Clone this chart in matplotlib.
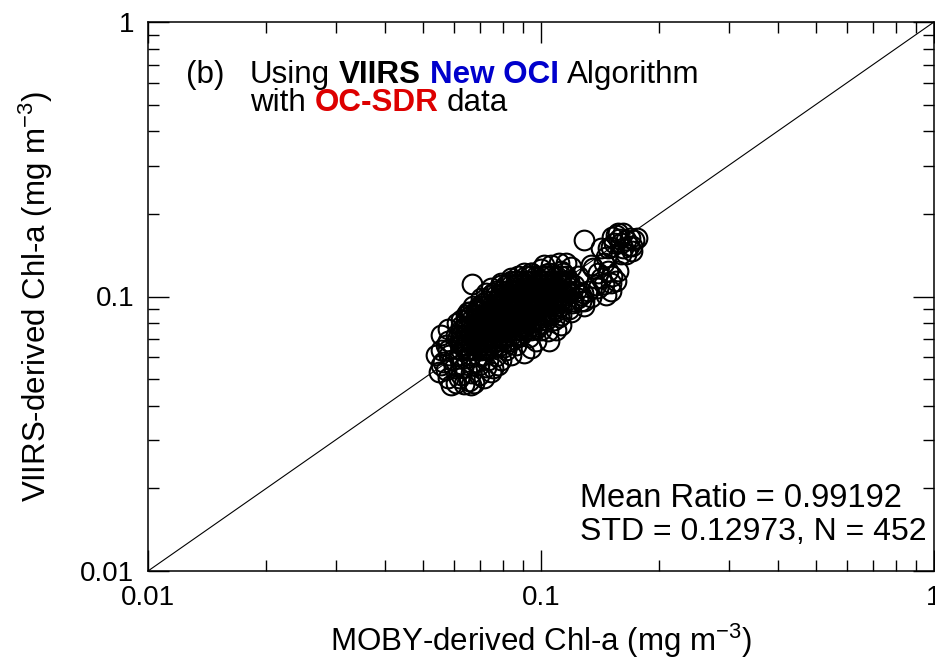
import matplotlib
matplotlib.use('Agg')
import matplotlib.pyplot as plt
from matplotlib.transforms import IdentityTransform
from matplotlib.ticker import LogLocator, NullFormatter, FixedLocator, FixedFormatter

plt.rcParams['font.family'] = ['Liberation Sans', 'DejaVu Sans']
plt.rcParams['mathtext.fontset'] = 'custom'
plt.rcParams['mathtext.rm'] = 'Liberation Sans'
plt.rcParams['mathtext.it'] = 'Liberation Sans:italic'
plt.rcParams['mathtext.bf'] = 'Liberation Sans:bold'

# ---------------- data ----------------
# MOBY-derived Chl-a (x) and VIIRS-derived Chl-a (y), mg m^-3
moby_chl = [
    # dense core
    0.0916, 0.0971, 0.103, 0.109, 0.116,
    0.0838, 0.0889, 0.0943, 0.100, 0.106, 0.1125, 0.118,
    0.0814, 0.0863, 0.0916, 0.0971, 0.103, 0.109, 0.116,
    0.0791, 0.0838, 0.0889, 0.0943, 0.100, 0.106, 0.1125, 0.118,
    0.0768, 0.0814, 0.0863, 0.0916, 0.0971, 0.103, 0.109, 0.116,
    0.0746, 0.0791, 0.0838, 0.0889, 0.0943, 0.100, 0.106, 0.1125,
    0.0724, 0.0768, 0.0814, 0.0863, 0.0916, 0.0971, 0.103, 0.109,
    0.0703, 0.0746, 0.0791, 0.0838, 0.0889, 0.0943, 0.100, 0.106,
    0.0663, 0.0703, 0.0746, 0.0791, 0.0838, 0.0889, 0.0943, 0.100, 0.106,
    0.0644, 0.0683, 0.0724, 0.0768, 0.0814, 0.0863, 0.0916, 0.0971, 0.103,
    0.0625, 0.0663, 0.0703, 0.0746, 0.0791, 0.0838, 0.0889, 0.0943,
    0.0644, 0.0683, 0.0724, 0.0768, 0.0814, 0.0863, 0.0916,
    0.0625, 0.0663, 0.0703, 0.0746, 0.0791, 0.0838, 0.0889,
    0.0644, 0.0683, 0.0724, 0.0768, 0.0814,
    0.0625, 0.0663, 0.0703, 0.0746, 0.0791,
    0.0644, 0.0683, 0.0724,
    0.0943, 0.105, 0.1135,
    0.083, 0.090, 0.0983, 0.107, 0.117,
    0.0757, 0.0823, 0.0905, 0.099, 0.108, 0.118,
    0.0716, 0.0777, 0.0848, 0.0927, 0.102, 0.111, 0.120,
    0.0691, 0.0755, 0.0823, 0.090, 0.0983, 0.108,
    0.0655, 0.0716, 0.0777, 0.0853, 0.0932, 0.102, 0.111,
    0.0636, 0.0691, 0.0757, 0.0823, 0.090, 0.0977,
    0.0614, 0.0671, 0.0733, 0.0805, 0.0874,
    0.0636, 0.0691, 0.0755, 0.0805,
    0.0618, 0.0663, 0.0711,
    0.0943, 0.100, 0.106, 0.1125,
    0.0863, 0.0916, 0.0971, 0.103, 0.109, 0.116,
    0.0791, 0.0838, 0.0889, 0.0943, 0.100, 0.106, 0.1125,
    0.0768, 0.0814, 0.0863, 0.0916, 0.0971, 0.103, 0.109, 0.116,
    0.0746, 0.0791, 0.0838, 0.0889, 0.0943, 0.100, 0.106, 0.1125,
    0.0724, 0.0768, 0.0814, 0.0863, 0.0916, 0.0971, 0.103, 0.109, 0.116,
    0.0703, 0.0746, 0.0791, 0.0838, 0.0889, 0.0943, 0.100, 0.106, 0.1125,
    0.0683, 0.0724, 0.0768, 0.0814, 0.0863, 0.0916, 0.0971, 0.103, 0.109,
    0.0644, 0.0683, 0.0724, 0.0768, 0.0814, 0.0863, 0.0916, 0.0971, 0.103,
    0.0625, 0.0663, 0.0703, 0.0746, 0.0791, 0.0838, 0.0889, 0.0943, 0.100,
    0.0644, 0.0683, 0.0724, 0.0768, 0.0814, 0.0863, 0.0916, 0.0971,
    0.0625, 0.0663, 0.0703, 0.0746, 0.0791, 0.0838, 0.0889, 0.0943,
    0.0644, 0.0683, 0.0724, 0.0768, 0.0814, 0.0863,
    0.0625, 0.0663, 0.0703, 0.0746, 0.0791, 0.0838,
    0.0644, 0.0683, 0.0724, 0.0768,
    0.0625, 0.0663, 0.0703,
    # core boundary
    0.0607, 0.0581, 0.0579, 0.123, 0.1205, 0.118, 0.1125, 0.108, 0.100, 0.0932,
    0.0863, 0.0814, 0.0768, 0.0733, 0.0683, 0.0644, 0.1125, 0.103, 0.0695, 0.0659,
    # upper-right group
    0.155, 0.162, 0.168, 0.172, 0.167, 0.160, 0.153, 0.165, 0.148,
    0.157, 0.170, 0.160, 0.151, 0.129, 0.142, 0.1465,
    0.158, 0.165, 0.152, 0.170, 0.162, 0.175,
    # right group
    0.134, 0.140, 0.148, 0.157, 0.152, 0.145, 0.151, 0.142, 0.140,
    0.151, 0.134, 0.1265, 0.129, 0.1265, 0.138,
    0.136, 0.145, 0.155, 0.1465, 0.132,
    # top edge of the core
    0.0838, 0.0905, 0.100, 0.102, 0.111, 0.116, 0.121, 0.124, 0.124,
    0.106, 0.0943, 0.0874, 0.0791, 0.0724, 0.119,
    # upper-left edge
    0.0746, 0.0703, 0.0671, 0.0652, 0.0611, 0.0579, 0.0556, 0.0667,
    # lower-left tail
    0.054, 0.0562, 0.0549, 0.0579, 0.0607, 0.0637, 0.0675, 0.0715, 0.0746,
    0.0777, 0.0724, 0.0663, 0.060, 0.0583, 0.0625, 0.0573, 0.0556,
    0.0573, 0.0618, 0.0655, 0.0695, 0.0755, 0.0695, 0.0633, 0.0595, 0.0556,
    0.0589, 0.0663,
    # lower-right edge of the core
    0.0838, 0.0905, 0.0943, 0.1048, 0.1042, 0.1125, 0.119, 0.129, 0.128,
    0.0791, 0.0971, 0.109,
]
viirs_chl = [
    0.119, 0.119, 0.119, 0.119, 0.119,
    0.114, 0.114, 0.114, 0.114, 0.114, 0.114, 0.114,
    0.110, 0.110, 0.110, 0.110, 0.110, 0.110, 0.110,
    0.105, 0.105, 0.105, 0.105, 0.105, 0.105, 0.105, 0.105,
    0.101, 0.101, 0.101, 0.101, 0.101, 0.101, 0.101, 0.101,
    0.0967, 0.0967, 0.0967, 0.0967, 0.0967, 0.0967, 0.0967, 0.0967,
    0.0927, 0.0927, 0.0927, 0.0927, 0.0927, 0.0927, 0.0927, 0.0927,
    0.0889, 0.0889, 0.0889, 0.0889, 0.0889, 0.0889, 0.0889, 0.0889,
    0.0853, 0.0853, 0.0853, 0.0853, 0.0853, 0.0853, 0.0853, 0.0853, 0.0853,
    0.0818, 0.0818, 0.0818, 0.0818, 0.0818, 0.0818, 0.0818, 0.0818, 0.0818,
    0.0784, 0.0784, 0.0784, 0.0784, 0.0784, 0.0784, 0.0784, 0.0784,
    0.0752, 0.0752, 0.0752, 0.0752, 0.0752, 0.0752, 0.0752,
    0.0721, 0.0721, 0.0721, 0.0721, 0.0721, 0.0721, 0.0721,
    0.0691, 0.0691, 0.0691, 0.0691, 0.0691,
    0.0663, 0.0663, 0.0663, 0.0663, 0.0663,
    0.0636, 0.0636, 0.0636,
    0.122, 0.122, 0.122,
    0.112, 0.112, 0.112, 0.112, 0.112,
    0.103, 0.103, 0.103, 0.103, 0.103, 0.103,
    0.095, 0.095, 0.095, 0.095, 0.095, 0.095, 0.095,
    0.0904, 0.0904, 0.0904, 0.0904, 0.0904, 0.0904,
    0.0839, 0.0839, 0.0839, 0.0839, 0.0839, 0.0839, 0.0839,
    0.0771, 0.0771, 0.0771, 0.0771, 0.0771, 0.0771,
    0.0709, 0.0709, 0.0709, 0.0709, 0.0709,
    0.0652, 0.0652, 0.0652, 0.0652,
    0.061, 0.061, 0.061,
    0.119, 0.119, 0.119, 0.119,
    0.114, 0.114, 0.114, 0.114, 0.114, 0.114,
    0.110, 0.110, 0.110, 0.110, 0.110, 0.110, 0.110,
    0.105, 0.105, 0.105, 0.105, 0.105, 0.105, 0.105, 0.105,
    0.101, 0.101, 0.101, 0.101, 0.101, 0.101, 0.101, 0.101,
    0.0967, 0.0967, 0.0967, 0.0967, 0.0967, 0.0967, 0.0967, 0.0967, 0.0967,
    0.0927, 0.0927, 0.0927, 0.0927, 0.0927, 0.0927, 0.0927, 0.0927, 0.0927,
    0.0889, 0.0889, 0.0889, 0.0889, 0.0889, 0.0889, 0.0889, 0.0889, 0.0889,
    0.0853, 0.0853, 0.0853, 0.0853, 0.0853, 0.0853, 0.0853, 0.0853, 0.0853,
    0.0818, 0.0818, 0.0818, 0.0818, 0.0818, 0.0818, 0.0818, 0.0818, 0.0818,
    0.0784, 0.0784, 0.0784, 0.0784, 0.0784, 0.0784, 0.0784, 0.0784,
    0.0752, 0.0752, 0.0752, 0.0752, 0.0752, 0.0752, 0.0752, 0.0752,
    0.0721, 0.0721, 0.0721, 0.0721, 0.0721, 0.0721,
    0.0691, 0.0691, 0.0691, 0.0691, 0.0691, 0.0691,
    0.0663, 0.0663, 0.0663, 0.0663,
    0.0636, 0.0636, 0.0636,
    # core boundary
    0.0721, 0.0691, 0.0636, 0.105, 0.0967, 0.0904, 0.0853, 0.0818, 0.0752, 0.0709,
    0.0663, 0.0636, 0.0605, 0.0585, 0.0575, 0.0597, 0.124, 0.121, 0.0927, 0.0875,
    # upper-right group
    0.167, 0.170, 0.164, 0.160, 0.153, 0.156, 0.157, 0.143, 0.150,
    0.170, 0.147, 0.143, 0.152, 0.160, 0.150, 0.139,
    0.162, 0.160, 0.165, 0.153, 0.150, 0.164,
    # right group
    0.130, 0.122, 0.124, 0.124, 0.119, 0.111, 0.112, 0.117, 0.107,
    0.105, 0.100, 0.0959, 0.0967, 0.101, 0.110,
    0.127, 0.132, 0.114, 0.101, 0.105,
    # top edge of the core
    0.117, 0.122, 0.126, 0.130, 0.133, 0.133, 0.110, 0.119, 0.099,
    0.130, 0.122, 0.119, 0.112, 0.103, 0.128,
    # upper-left edge
    0.107, 0.0991, 0.0927, 0.0875, 0.0804, 0.0764, 0.0721, 0.111,
    # lower-left tail
    0.0610, 0.0575, 0.0529, 0.0503, 0.0486, 0.0482, 0.0486, 0.0503, 0.0529,
    0.0561, 0.0552, 0.0525, 0.0547, 0.0610, 0.0516, 0.0663, 0.0561,
    0.0538, 0.0503, 0.0494, 0.0516, 0.0547, 0.0561, 0.0547, 0.0585, 0.0636,
    0.0474, 0.0474,
    # lower-right edge of the core
    0.0610, 0.0620, 0.0647, 0.0691, 0.0746, 0.0786, 0.0875, 0.0927, 0.103,
    0.0585, 0.0691, 0.0752,
]

axis_limits = [0.01, 1.0]
tick_values = [0.01, 0.1, 1.0]
tick_labels = ['0.01', '0.1', '1']
x_label = 'MOBY-derived Chl-a (mg m$^{-3}$)'
y_label = 'VIIRS-derived Chl-a (mg m$^{-3}$)'
title_tag = '(b)'
title_line1 = [('Using ', 'black', 'normal'), ('VIIRS ', 'black', 'bold'),
               ('New OCI ', '#0000cc', 'bold'), ('Algorithm', 'black', 'normal')]
title_line2 = [('with ', 'black', 'normal'), ('OC-SDR ', '#dd0000', 'bold'),
               ('data', 'black', 'normal')]
stats_lines = ['Mean Ratio = 0.99192', 'STD = 0.12973, N = 452']

# ---------------- figure ----------------
W, H = 935, 669
fig = plt.figure(figsize=(W / 100, H / 100), dpi=100)
ax = fig.add_axes([148 / W, 98 / H, 786 / W, 549 / H])
ax.set_xscale('log')
ax.set_yscale('log')
ax.set_xlim(axis_limits)
ax.set_ylim(axis_limits)

ax.plot(axis_limits, axis_limits, color='black', lw=0.8, zorder=1)
ax.plot(moby_chl, viirs_chl, 'o', ms=14.2, mfc='none', mec='black', mew=1.5, zorder=2)

for axis in (ax.xaxis, ax.yaxis):
    axis.set_major_locator(FixedLocator(tick_values))
    axis.set_major_formatter(FixedFormatter(tick_labels))
    axis.set_minor_locator(LogLocator(base=10, subs=range(2, 10)))
    axis.set_minor_formatter(NullFormatter())
ax.tick_params(which='both', direction='in', top=True, right=True, width=1.0,
               labelsize=20, pad=10)
ax.tick_params(which='major', length=15)
ax.tick_params(which='minor', length=8)
for s in ax.spines.values():
    s.set_linewidth(1.1)

ax.set_xlabel(x_label, fontsize=22.5)
ax.set_ylabel(y_label, fontsize=22.5)
ax.xaxis.set_label_coords(0.5, -0.093)
ax.yaxis.set_label_coords(-0.118, 0.5)

renderer = fig.canvas.get_renderer()


def width_of(txt, size, weight):
    t = fig.text(0, 0, txt, fontsize=size, fontweight=weight)
    w = t.get_window_extent(renderer).width
    t.remove()
    return w


def draw_pieces(x0, y0, pieces, size):
    # x0, y0 in display pixels (origin bottom-left), baseline aligned
    x = x0
    for txt, color, weight in pieces:
        core = txt.rstrip(' ')
        t = fig.text(x, y0, core, transform=IdentityTransform(), fontsize=size,
                     color=color, fontweight=weight, va='baseline', ha='left')
        x = t.get_window_extent(renderer).x1
        n_sp = len(txt) - len(core)
        if n_sp:
            sp = width_of('a a', size, weight) - width_of('aa', size, weight)
            x += sp * n_sp


fig.text(186, H - 83, title_tag, transform=IdentityTransform(), fontsize=22.6,
         va='baseline', ha='left')
draw_pieces(250, H - 83, title_line1, 22.6)
draw_pieces(250, H - 111, title_line2, 22.6)

fig.text(580, H - 507, stats_lines[0], transform=IdentityTransform(), fontsize=23.5,
         va='baseline', ha='left')
fig.text(580, H - 540, stats_lines[1], transform=IdentityTransform(), fontsize=23.0,
         va='baseline', ha='left')

fig.savefig('out.png', dpi=100)
